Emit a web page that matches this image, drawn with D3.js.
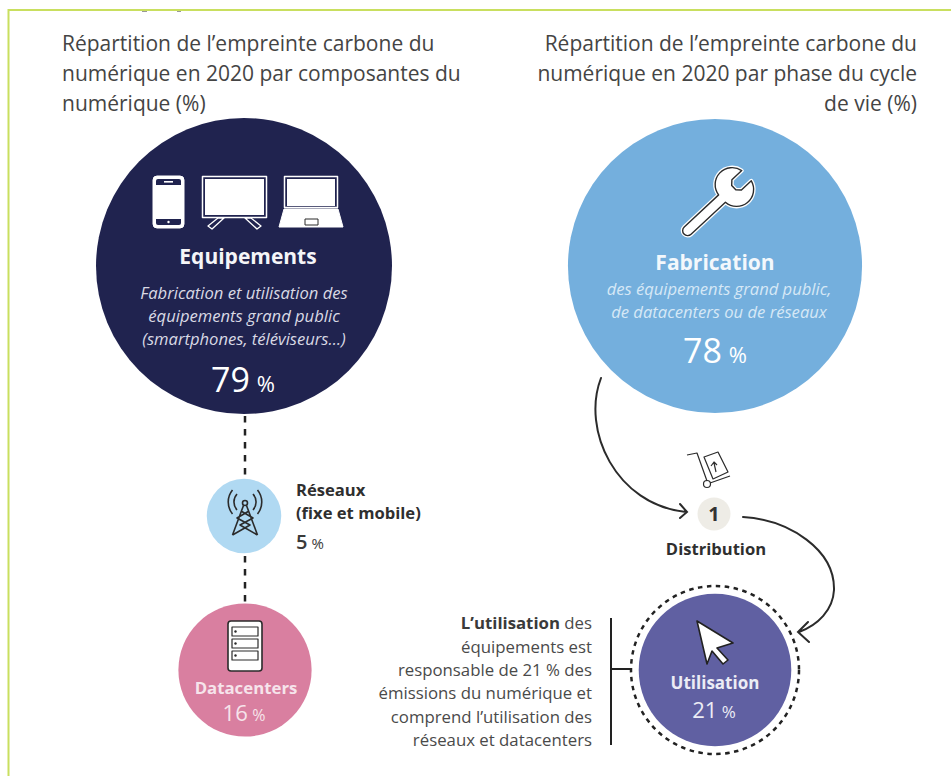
<!DOCTYPE html>
<html lang="fr">
<head>
<meta charset="utf-8">
<title>Empreinte carbone du numérique</title>
<script src="https://cdn.jsdelivr.net/npm/d3@7"></script>
<style>
    html, body { margin: 0; padding: 0; background: #fff; }
    svg { display: block; }
    text { font-family: "Open Sans", sans-serif; }
</style>
</head>
<body>
<div id="chart"></div>
<script>
const componentNames = ["Equipements", "Réseaux", "Datacenters"];
const componentValues = [79, 5, 16];
const phaseNames = ["Fabrication", "Distribution", "Utilisation"];
const phaseValues = [78, 1, 21];

const leftTitle = ["Répartition de l’empreinte carbone du", "numérique en 2020 par composantes du", "numérique (%)"];
const rightTitle = ["Répartition de l’empreinte carbone du", "numérique en 2020 par phase du cycle", "de vie (%)"];
const equipNote = ["Fabrication et utilisation des", "équipements grand public", "(smartphones, téléviseurs…)"];
const fabNote = ["des équipements grand public,", "de datacenters ou de réseaux"];
const useNote = ["équipements est", "responsable de 21 % des", "émissions du numérique et", "comprend l’utilisation des", "réseaux et datacenters"];

const width = 951;
const height = 776;
const dark = "#2b2b2b";

const svg = d3.select("#chart")
    .append("svg")
    .attr("width", width)
    .attr("height", height);

// circle area follows the share
const radius = d3.scaleSqrt().domain([0, 79]).range([0, 148]);

// frame
svg.append("path")
    .attr("d", "M8.5,776V10H951")
    .attr("fill", "none")
    .attr("stroke", "#c9df5f")
    .attr("stroke-width", 2);

// bits of the cropped line above the frame
svg.append("path")
    .attr("d", "M142,11.5h5M177,11.5h4")
    .attr("stroke", "#999")
    .attr("stroke-width", 1);

function multiline(lines, x, y, lineHeight, size, anchor, fill, italic) {
    svg.selectAll(null)
        .data(lines)
        .enter().append("text")
        .attr("x", x)
        .attr("y", (d, i) => y + i * lineHeight)
        .attr("text-anchor", anchor)
        .attr("font-size", size)
        .attr("font-style", italic ? "italic" : "normal")
        .attr("fill", fill)
        .text(d => d);
}

function label(text, x, y, size, fill) {
    return svg.append("text")
        .attr("x", x)
        .attr("y", y)
        .attr("text-anchor", "middle")
        .attr("font-size", size)
        .attr("font-weight", 700)
        .attr("fill", fill)
        .text(text);
}

function percent(value, x, y, size, pctSize, fill, anchor, weight) {
    const t = svg.append("text")
        .attr("x", x)
        .attr("y", y)
        .attr("text-anchor", anchor || "middle")
        .attr("fill", fill);
    t.append("tspan").attr("font-size", size).attr("font-weight", weight || 400).text(value);
    t.append("tspan").attr("font-size", pctSize).attr("dx", size * 0.2).text("%");
}

function bubble(value, cx, cy, color) {
    return svg.append("circle")
        .attr("cx", cx)
        .attr("cy", cy)
        .attr("r", radius(value))
        .attr("fill", color);
}

multiline(leftTitle, 62, 51, 30, 21, "start", "#444");
multiline(rightTitle, 917, 51, 30, 21, "end", "#444");

// dashed links between the components
svg.append("path")
    .attr("d", "M245,416V478M245,556V602")
    .attr("stroke", "#222")
    .attr("stroke-width", 2.5)
    .attr("stroke-dasharray", "6.5 6.5");

// left column
bubble(componentValues[0], 244, 266, "#20234f");
bubble(componentValues[1], 244, 516, "#b0d9f2");
bubble(componentValues[2], 245, 670, "#d97fa0");

label(componentNames[0], 248, 264, 21, "#f5f5f8");
multiline(equipNote, 244, 299, 23, 16.6, "middle", "#d9d9e4", true);
percent(componentValues[0], 243, 392, 34, 22, "#fff");

label(componentNames[1], 296, 496, 16.6, "#2f2f2f").attr("text-anchor", "start");
label("(fixe et mobile)", 296, 519, 16.6, "#2f2f2f").attr("text-anchor", "start");
percent(componentValues[1], 296, 549, 20, 15, "#3a3a3a", "start", 600);

label(componentNames[2], 246, 694, 16.8, "#f6e4eb");
percent(componentValues[2], 244, 721, 22, 16, "#f6e4eb");

// right column
bubble(phaseValues[0], 715, 266, "#74afdd");
label(phaseNames[0], 715, 270, 21, "#f3f8fc");
multiline(fabNote, 719, 295, 23, 16.6, "middle", "#d6e8f6", true);
percent(phaseValues[0], 715, 363, 34, 22, "#fff");

svg.append("circle").attr("cx", 714).attr("cy", 514).attr("r", 16.5).attr("fill", "#eeece6");
svg.append("text")
    .attr("x", 714).attr("y", 521)
    .attr("text-anchor", "middle")
    .attr("font-size", 20).attr("font-weight", 700).attr("fill", "#333")
    .text(phaseValues[1]);
label(phaseNames[1], 716, 555, 16.6, "#2f2f2f");

bubble(phaseValues[2], 715, 670, "#6060a2");
svg.append("circle")
    .attr("cx", 715).attr("cy", 670).attr("r", 84)
    .attr("fill", "none")
    .attr("stroke", "#222")
    .attr("stroke-width", 2.5)
    .attr("stroke-dasharray", "4.5 4.5");
label(phaseNames[2], 715, 689, 17, "#ececf5");
percent(phaseValues[2], 714, 718, 22, 17, "#ececf5");

// note next to Utilisation
const noteHead = svg.append("text")
    .attr("x", 592).attr("y", 629)
    .attr("text-anchor", "end")
    .attr("font-size", 16.8)
    .attr("fill", "#4a4a4a");
noteHead.append("tspan").attr("font-weight", 700).attr("fill", "#3a3a3a").text("L’utilisation");
noteHead.append("tspan").text(" des");
multiline(useNote, 592, 653, 23.2, 16.8, "end", "#4a4a4a");

svg.append("path")
    .attr("d", "M611,618V745M611,669H632")
    .attr("fill", "none")
    .attr("stroke", "#222")
    .attr("stroke-width", 2);

// arrows of the life cycle
const arrows = svg.append("g")
    .attr("fill", "none")
    .attr("stroke", dark)
    .attr("stroke-width", 2)
    .attr("stroke-linecap", "round");
arrows.append("path").attr("d", "M601,378C581,430 616,505 686,512M680,504L687,512L680,518");
arrows.append("path").attr("d", "M743,517C790,520 835,550 834,590C833,610 818,625 799,632M808,622L798,632L809,642");

// icons, drawn around their own origin
function icon(x, y) {
    return svg.append("g")
        .attr("transform", "translate(" + x + "," + y + ")")
        .attr("stroke-linejoin", "round");
}

const devices = icon(244, 266).attr("fill", "#fff").attr("stroke", "#fff");
const navyBg = "#20234f";
devices.append("rect").attr("x", -91).attr("y", -90).attr("width", 31).attr("height", 52).attr("rx", 4);
devices.append("rect").attr("x", -88).attr("y", -87).attr("width", 25).attr("height", 46).attr("rx", 2)
    .attr("fill", navyBg).attr("stroke", "none");
devices.append("rect").attr("x", -88).attr("y", -81).attr("width", 25).attr("height", 34).attr("stroke", "none");
devices.append("rect").attr("x", -80).attr("y", -85).attr("width", 9).attr("height", 1.6).attr("stroke", "none");
devices.append("circle").attr("cx", -75.5).attr("cy", -44).attr("r", 1.2).attr("stroke", "none");
devices.append("rect").attr("x", -41.5).attr("y", -89.5).attr("width", 64).attr("height", 41).attr("fill", navyBg).attr("stroke-width", 1.5);
devices.append("rect").attr("x", -39).attr("y", -87).attr("width", 59).attr("height", 36).attr("stroke", "none");
devices.append("path").attr("d", "M-26,-48L-36,-40L-32,-37L-20,-48ZM7,-48L17,-40L13,-37L1,-48Z").attr("fill", navyBg).attr("stroke-width", 1.3);
devices.append("rect").attr("x", 40.5).attr("y", -89.5).attr("width", 53).attr("height", 31).attr("fill", navyBg).attr("stroke-width", 1.5);
devices.append("rect").attr("x", 43).attr("y", -87).attr("width", 48).attr("height", 27).attr("stroke", "none");
devices.append("path").attr("d", "M40,-57H94L99,-39H35Z").attr("stroke-width", 1);
devices.append("rect").attr("x", 61).attr("y", -47).attr("width", 13).attr("height", 6).attr("fill", "none").attr("stroke", dark).attr("stroke-width", 1);

// tower of the network bubble
const tower = icon(245, 503).attr("fill", "none").attr("stroke", dark).attr("stroke-width", 1.6);
tower.append("circle").attr("r", 2.5);
tower.append("path").attr("d", "M-1.5,2.5L-12.5,32M1.5,2.5L12.5,32M-12.5,32L5,22L-8,15L4,8M12.5,32L-5,22L8,15L-4,8");
tower.append("path").attr("d", "M-8,-9A12,12 0 0 0 -8,7M8,-9A12,12 0 0 1 8,7M-12.5,-13A19,19 0 0 0 -12.5,11M12.5,-13A19,19 0 0 1 12.5,11");

// server rack of the datacenter bubble
const rack = icon(245, 646);
rack.append("rect").attr("x", -17).attr("y", -25).attr("width", 34).attr("height", 50).attr("rx", 3)
    .attr("fill", "#fff").attr("stroke", dark).attr("stroke-width", 1.6);
[-19, -7, 5].forEach(y => {
    rack.append("rect").attr("x", -13).attr("y", y).attr("width", 26).attr("height", 9)
        .attr("fill", "#fff").attr("stroke", dark).attr("stroke-width", 1.2);
    rack.append("circle").attr("cx", -9.5).attr("cy", y + 4.5).attr("r", 1.2).attr("fill", dark);
});

// wrench of the fabrication bubble
const wrenchShape = "M5,-5L52,-5A17,17 0 0 1 85.5,-7L72,-7L68,-3L68,3L72,7L85.5,7A17,17 0 0 1 52,5L5,5A5,5 0 0 1 5,-5Z";
const wrench = icon(684, 234).attr("transform", "translate(684,234) rotate(-43)");
wrench.append("path")
    .attr("d", wrenchShape)
    .attr("fill", "#fff")
    .attr("stroke", "#fff")
    .attr("stroke-width", 4);
wrench.append("path")
    .attr("d", wrenchShape)
    .attr("fill", "#fff")
    .attr("stroke", dark)
    .attr("stroke-width", 1.4);

// trolley of the distribution step
const trolley = icon(0, 0).attr("fill", "none").attr("stroke", dark).attr("stroke-width", 1.2);
trolley.append("path").attr("d", "M687,455L697,453L707,481M710,483L730,476");
trolley.append("circle").attr("cx", 707).attr("cy", 484).attr("r", 3.5);
trolley.append("path").attr("d", "M704,457L718,452L728,472L713,479Z");
trolley.append("path").attr("d", "M716,472L714,463M711,466L714,462L717,465");

// cursor of the use bubble
icon(0, 0).append("path")
    .attr("d", "M697,621L733,643L717,648L728,660L723,664L712,651L707,664Z")
    .attr("fill", "#fff")
    .attr("stroke", "#222")
    .attr("stroke-width", 1.6);
</script>
</body>
</html>
